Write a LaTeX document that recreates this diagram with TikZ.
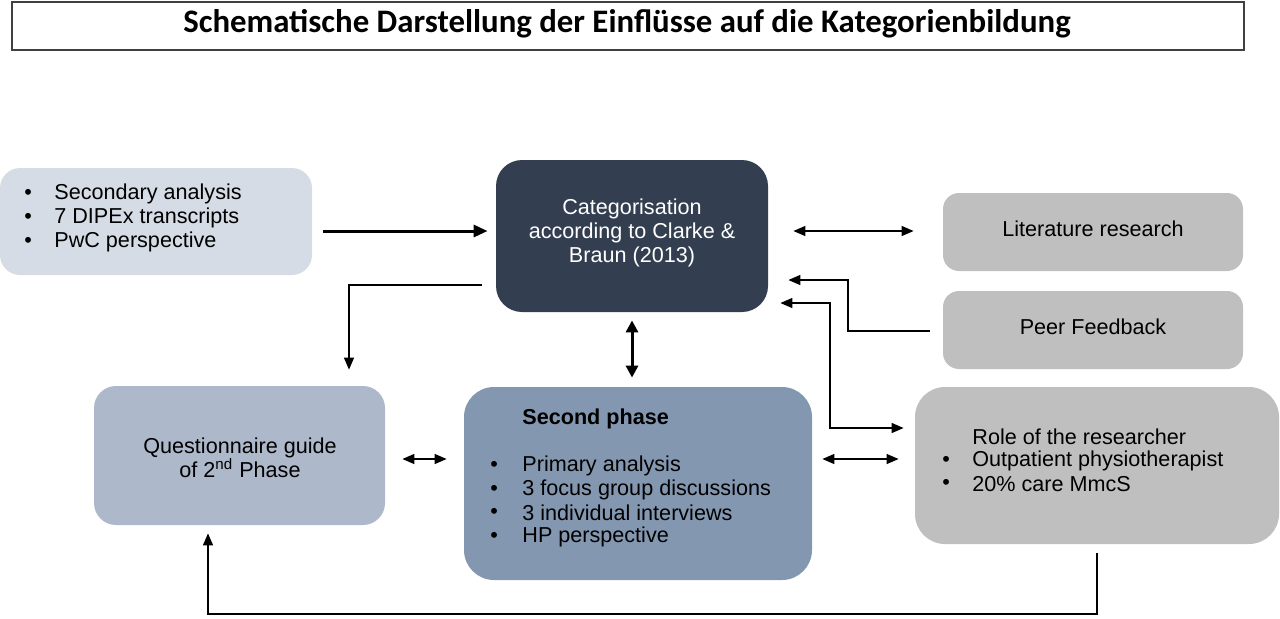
\documentclass[tikz,border=0pt]{standalone}
\usepackage{fontspec}
\setmainfont{Liberation Sans}
\newfontfamily\titlefont{Carlito}
\usetikzlibrary{arrows.meta,calc}
\definecolor{cA}{HTML}{D6DCE5}
\definecolor{cB}{HTML}{333F50}
\definecolor{cE}{HTML}{ADB9CA}
\definecolor{cF}{HTML}{8497B0}
\definecolor{cG}{HTML}{BFBFBF}
\tikzset{
  box/.style={draw=none, inner sep=0pt, rectangle},
  txt/.style={inner sep=0pt, font=\fontsize{10.8}{12}\selectfont, text=black},
  ctxt/.style={txt, align=center},
  thin arrow/.style={line width=0.7pt, -{Triangle[length=6pt,width=5pt]}},
  thin both/.style={line width=0.7pt, {Triangle[length=6pt,width=5pt]}-{Triangle[length=6pt,width=5pt]}},
  thick arrow/.style={line width=1.5pt, -{Triangle[length=7pt,width=6pt]}},
  thick both/.style={line width=1.5pt, {Triangle[length=6pt,width=6pt]}-{Triangle[length=6pt,width=6pt]}},
}
\begin{document}
\begin{tikzpicture}[x=0.5pt,y=-0.5pt]
\useasboundingbox (0,0) rectangle (1280,618);
% title
\node[box, draw=black!75, line width=0.6pt, minimum width=616pt, minimum height=24pt] (title) at (628,26) {};
\node[inner sep=0pt, font=\titlefont\bfseries\fontsize{16.4}{18}\selectfont] (titletext) at (627,24) {Schematische Darstellung der Einflüsse auf die Kategorienbildung};
% boxes
\node[box, fill=cA, rounded corners=10pt, minimum width=156pt, minimum height=53.5pt] (A) at (156,221.5) {};
\node[box, fill=cB, rounded corners=13pt, minimum width=136pt, minimum height=76pt] (B) at (632,236) {};
\node[box, fill=cG, rounded corners=8pt, minimum width=150pt, minimum height=39pt] (C) at (1093,232) {};
\node[box, fill=cG, rounded corners=8pt, minimum width=150pt, minimum height=39pt] (D) at (1093,330) {};
\node[box, fill=cE, rounded corners=11pt, minimum width=145.5pt, minimum height=69.5pt] (E) at (239.5,455.5) {};
\node[box, fill=cF, rounded corners=15pt, minimum width=174pt, minimum height=96.5pt] (F) at (638,483.5) {};
\node[box, fill=cG, rounded corners=15pt, minimum width=182pt, minimum height=78.5pt] (G) at (1097,465.5) {};
% texts A
\node[txt, anchor=west] (a1) at (24,194) {\textbullet};
\node[txt, anchor=west] (a1t) at (54,194) {Secondary analysis};
\node[txt, anchor=west] (a2) at (24,218) {\textbullet};
\node[txt, anchor=west] (a2t) at (54,218) {7 DIPEx transcripts};
\node[txt, anchor=west] (a3) at (24,242) {\textbullet};
\node[txt, anchor=west] (a3t) at (54,242) {PwC perspective};
% text B
\node[ctxt, text=white] (bt) at (632,233) {Categorisation\\according to Clarke \&\\Braun (2013)};
% C, D
\node[ctxt] (ct) at (1093,229) {Literature research};
\node[ctxt] (dt) at (1093,327) {Peer Feedback};
% E
\node[ctxt] (et) at (240,458) {Questionnaire guide\\of 2\textsuperscript{nd} Phase};
% F
\node[txt, anchor=west, font=\bfseries\fontsize{10.8}{12}\selectfont] (f0) at (522,419) {Second phase};
\node[txt, anchor=west] (f1) at (490,466) {\textbullet};
\node[txt, anchor=west] (f1t) at (522,466) {Primary analysis};
\node[txt, anchor=west] (f2) at (490,490) {\textbullet};
\node[txt, anchor=west] (f2t) at (522,490) {3 focus group discussions};
\node[txt, anchor=west] (f3) at (490,513) {\textbullet};
\node[txt, anchor=west] (f3t) at (522,513) {3 individual interviews};
\node[txt, anchor=west] (f4) at (490,537) {\textbullet};
\node[txt, anchor=west] (f4t) at (522,537) {HP perspective};
% G
\node[txt, anchor=west] (g0) at (972,437) {Role of the researcher};
\node[txt, anchor=west] (g1) at (942,461) {\textbullet};
\node[txt, anchor=west] (g1t) at (972,461) {Outpatient physiotherapist};
\node[txt, anchor=west] (g2) at (942,484) {\textbullet};
\node[txt, anchor=west] (g2t) at (972,484) {20\% care MmcS};
% connectors
\draw[thick arrow] ($(A.east |- 0,231)+(11,0)$) -- ($(B.west |- 0,231)+(-8,0)$);
\draw[thin arrow] ($(B.west |- 0,285)+(-14,0)$) -| ($(E.north -| 349,0)+(0,-16)$);
\draw[thick both] ($(B.south)+(0,8)$) -- ($(F.north -| B.south)+(0,-9)$);
\draw[thin both] ($(B.east |- 0,231)+(25,0)$) -- ($(C.west |- 0,231)+(-29,0)$);
\draw[thin arrow] ($(D.west |- 0,331)+(-13,0)$) -| (848,280) -- ($(B.east |- 0,280)+(20,0)$);
\draw[thin both] ($(B.east |- 0,303)+(12,0)$) -| (830,428) -- ($(G.west |- 0,428)+(-11,0)$);
\draw[thin both] ($(E.east |- 0,459)+(17,0)$) -- ($(F.west |- 0,459)+(-17,0)$);
\draw[thin both] ($(F.east |- 0,459)+(10,0)$) -- ($(G.west |- 0,459)+(-16,0)$);
\draw[thin arrow] ($(G.south -| 1097,0)+(0,9)$) -- (1097,614) -| ($(E.south -| 208,0)+(0,8)$);
\end{tikzpicture}
\end{document}
